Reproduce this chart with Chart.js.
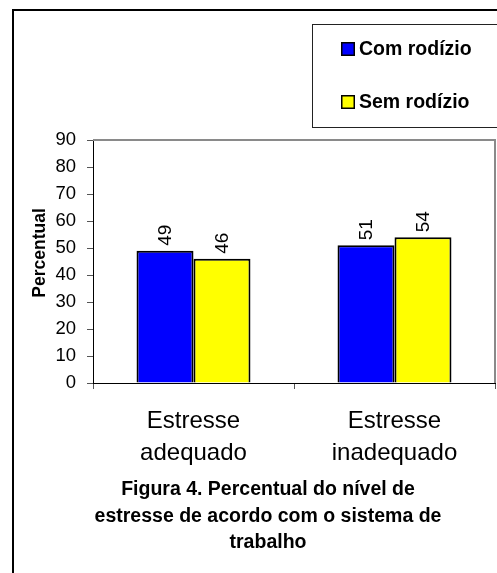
<!DOCTYPE html>
<html>
<head>
<meta charset="utf-8">
<script src="https://cdn.jsdelivr.net/npm/chart.js@4/dist/chart.umd.min.js"></script>
<style>
  html, body { margin: 0; padding: 0; background: #fff; }
  canvas { display: block; }
</style>
</head>
<body>
<canvas id="c" width="497" height="573"></canvas>
<script>
// Categories (multi-line axis labels) and series values
const categories = [['Estresse', 'adequado'], ['Estresse', 'inadequado']];
const comRodizio = [49, 51];
const semRodizio = [46, 54];
const seriesNames = ['Com rodízio', 'Sem rodízio'];
const yTicks = [0, 10, 20, 30, 40, 50, 60, 70, 80, 90];
const yAxisTitle = 'Percentual';
const captionLines = [
  'Figura 4. Percentual do nível de',
  'estresse de acordo com o sistema de',
  'trabalho'
];

const FONT = '"Liberation Sans", Arial, Helvetica, sans-serif';

// Frame, legend box, plot outline, axis title, value labels and caption
const decorations = {
  id: 'decorations',
  beforeDraw(chart) {
    const ctx = chart.ctx;
    ctx.save();
    ctx.fillStyle = '#fff';
    ctx.fillRect(0, 0, chart.width, chart.height);
    // outer frame
    ctx.strokeStyle = '#000';
    ctx.lineWidth = 2;
    ctx.strokeRect(13, 10, chart.width + 20, chart.height + 20);
    ctx.restore();
  },
  afterDraw(chart) {
    const ctx = chart.ctx;
    const area = chart.chartArea;
    ctx.save();

    // plot area outline (top and right)
    ctx.strokeStyle = '#8a8a8a';
    ctx.lineWidth = 2;
    ctx.beginPath();
    ctx.moveTo(area.left, area.top);
    ctx.lineTo(area.right, area.top);
    ctx.lineTo(area.right, area.bottom);
    ctx.stroke();

    // legend box
    ctx.strokeStyle = '#222';
    ctx.lineWidth = 1;
    ctx.strokeRect(312.5, 24.5, 300, 103);
    chart.data.datasets.forEach((ds, i) => {
      const y = 42 + i * 53;
      ctx.fillStyle = ds.backgroundColor;
      ctx.fillRect(341, y, 14, 14);
      ctx.strokeStyle = '#000';
      ctx.lineWidth = 1.5;
      ctx.strokeRect(341.75, y + 0.75, 12.5, 12.5);
      ctx.fillStyle = '#000';
      ctx.font = 'bold 19.5px ' + FONT;
      ctx.textAlign = 'left';
      ctx.textBaseline = 'middle';
      ctx.fillText(ds.label, 359, y + 7.5);
    });

    // y axis title
    ctx.save();
    ctx.translate(40, 253);
    ctx.rotate(-Math.PI / 2);
    ctx.font = 'bold 17.5px ' + FONT;
    ctx.fillStyle = '#000';
    ctx.textAlign = 'center';
    ctx.textBaseline = 'middle';
    ctx.fillText(yAxisTitle, 0, 0);
    ctx.restore();

    // value labels, rotated, above each bar
    ctx.font = '19px ' + FONT;
    ctx.fillStyle = '#000';
    chart.data.datasets.forEach((ds, di) => {
      const meta = chart.getDatasetMeta(di);
      meta.data.forEach((bar, idx) => {
        ctx.save();
        ctx.translate(bar.x, bar.y - 5);
        ctx.rotate(-Math.PI / 2);
        ctx.textAlign = 'left';
        ctx.textBaseline = 'middle';
        ctx.fillText(String(ds.data[idx]), 0, 1);
        ctx.restore();
      });
    });

    // caption
    ctx.font = 'bold 19.5px ' + FONT;
    ctx.textAlign = 'center';
    ctx.textBaseline = 'alphabetic';
    captionLines.forEach((line, i) => {
      ctx.fillText(line, 268, 495 + i * 26.5);
    });
    ctx.restore();
  }
};

new Chart(document.getElementById('c'), {
  type: 'bar',
  data: {
    labels: categories,
    datasets: [
      {
        label: seriesNames[0],
        data: comRodizio,
        backgroundColor: '#0000ff',
        borderColor: '#000',
        borderWidth: 2
      },
      {
        label: seriesNames[1],
        data: semRodizio,
        backgroundColor: '#ffff00',
        borderColor: '#000',
        borderWidth: 2
      }
    ]
  },
  options: {
    responsive: false,
    animation: false,
    devicePixelRatio: 1,
    layout: { padding: { left: 0, top: 140, right: 2, bottom: 0 } },
    datasets: {
      bar: { categoryPercentage: 0.567, barPercentage: 1.0 }
    },
    plugins: {
      legend: { display: false },
      tooltip: { enabled: false }
    },
    scales: {
      x: {
        grid: {
          offset: true,
          drawOnChartArea: false,
          drawTicks: true,
          tickLength: 6,
          color: '#555'
        },
        border: { display: true, color: '#000', width: 1 },
        ticks: {
          color: '#000',
          padding: 16,
          maxRotation: 0,
          font: { family: FONT, size: 24, lineHeight: 1.34 }
        },
        afterFit(scale) { scale.height = 190; }
      },
      y: {
        min: 0,
        max: 90,
        afterBuildTicks(scale) {
          scale.ticks = yTicks.map(v => ({ value: v }));
        },
        grid: {
          drawOnChartArea: false,
          drawTicks: true,
          tickLength: 6,
          color: '#555'
        },
        border: { display: true, color: '#000', width: 1 },
        ticks: {
          color: '#000',
          padding: 11,
          font: { family: FONT, size: 18.5 }
        },
        afterFit(scale) { scale.width = 93; }
      }
    }
  },
  plugins: [decorations]
});
</script>
</body>
</html>
